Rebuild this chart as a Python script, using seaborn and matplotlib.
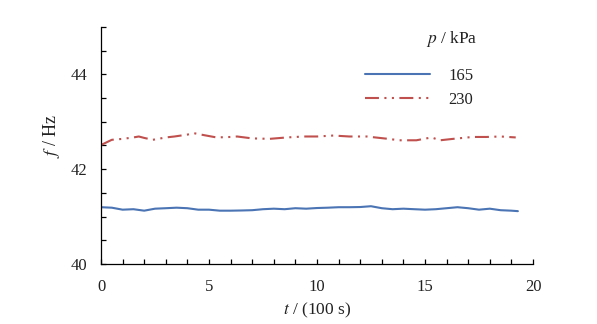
import numpy as np
import pandas as pd
import matplotlib
matplotlib.use("Agg")
import matplotlib.pyplot as plt
from matplotlib.ticker import MultipleLocator
import seaborn as sns

# Frequency records at two pressures, t in units of 100 s
t_165 = [0, 0.5, 1, 1.5, 2, 2.5, 3, 3.5, 4, 4.5, 5, 5.5, 6, 6.5, 7, 7.5, 8,
         8.5, 9, 9.5, 10, 10.5, 11, 11.5, 12, 12.5, 13, 13.5, 14, 14.5, 15,
         15.5, 16, 16.5, 17, 17.5, 18, 18.5, 19, 19.3]
f_165 = [41.198, 41.188, 41.146, 41.156, 41.125, 41.167, 41.177, 41.188,
         41.177, 41.146, 41.146, 41.125, 41.125, 41.129, 41.135, 41.156,
         41.167, 41.156, 41.177, 41.167, 41.181, 41.188, 41.198, 41.198,
         41.202, 41.219, 41.177, 41.156, 41.167, 41.156, 41.146, 41.156,
         41.177, 41.198, 41.177, 41.146, 41.167, 41.135, 41.125, 41.115]

t_230 = [0, 0.5, 1, 1.5, 1.75, 2, 2.4, 3, 3.4, 4, 4.3, 4.75, 5.35, 6, 6.3, 7,
         7.8, 8.6, 9.4, 10, 10.75, 11.5, 12.3, 13.3, 13.8, 14.6, 15.3, 15.7,
         16.3, 17.2, 17.85, 18.5, 19.2]
f_230 = [42.51, 42.62, 42.64, 42.67, 42.69, 42.66, 42.62, 42.67, 42.69, 42.73,
         42.76, 42.72, 42.67, 42.68, 42.69, 42.65, 42.64, 42.67, 42.69, 42.69,
         42.71, 42.69, 42.69, 42.64, 42.61, 42.61, 42.67, 42.61, 42.64, 42.68,
         42.68, 42.69, 42.67]

pressures = ["165", "230"]

df = pd.concat([
    pd.DataFrame({"t": t_165, "f": f_165, "p": pressures[0]}),
    pd.DataFrame({"t": t_230, "f": f_230, "p": pressures[1]}),
], ignore_index=True)

sns.set_theme(style="ticks")
plt.rcParams["font.family"] = ["Liberation Serif", "DejaVu Serif"]
plt.rcParams["mathtext.fontset"] = "stix"
plt.rcParams["xtick.direction"] = "in"
plt.rcParams["ytick.direction"] = "in"

fig = plt.figure(figsize=(5.97, 3.24), dpi=100)
ax = fig.add_axes([101 / 597, 1 - 264 / 324, 432 / 597, 237 / 324])

palette = {"165": "#4a74b4", "230": "#c0504d"}
sns.lineplot(data=df, x="t", y="f", hue="p", palette=palette, ax=ax,
             linewidth=1.5, legend=False, sort=True)
lines = ax.get_lines()
lines[1].set_linestyle((0, (6.7, 2.6, 1, 2.6, 1, 2.6)))

ax.set_xlim(0, 20)
ax.set_ylim(40, 45)
ax.xaxis.set_major_locator(MultipleLocator(5))
ax.xaxis.set_minor_locator(MultipleLocator(1))
ax.yaxis.set_major_locator(MultipleLocator(2))
ax.yaxis.set_minor_locator(MultipleLocator(0.5))
ax.tick_params(which="both", direction="in", length=3.6, width=0.9,
               color="black", labelsize=12, labelcolor="#222222")
ax.tick_params(axis="y", which="major", pad=10)
ax.tick_params(axis="x", which="major", pad=11)
for s in ["top", "right"]:
    ax.spines[s].set_visible(False)
for s in ["left", "bottom"]:
    ax.spines[s].set_color("black")
    ax.spines[s].set_linewidth(0.9)

ax.set_xlabel("$t$ / (100 s)", fontsize=12.5, color="#222222")
ax.set_ylabel("$f$ / Hz", fontsize=13, color="#222222")
ax.xaxis.set_label_coords(0.5, -0.155)
ax.yaxis.set_label_coords(-0.09, 0.54)

handles = [lines[0], lines[1]]
leg = fig.legend(handles, pressures, loc="upper left",
                 bbox_to_anchor=(365 / 597, 1 - 68 / 324), frameon=False,
                 fontsize=12, handlelength=3.9, handletextpad=1.1,
                 labelspacing=0.5, borderpad=0, borderaxespad=0)
for txt in leg.get_texts():
    txt.set_color("#222222")
fig.text(452 / 597, 1 - 39 / 324, "$p$ / kPa", fontsize=12.5, color="#222222",
         ha="center", va="center")

fig.savefig("out.png", dpi=100)
